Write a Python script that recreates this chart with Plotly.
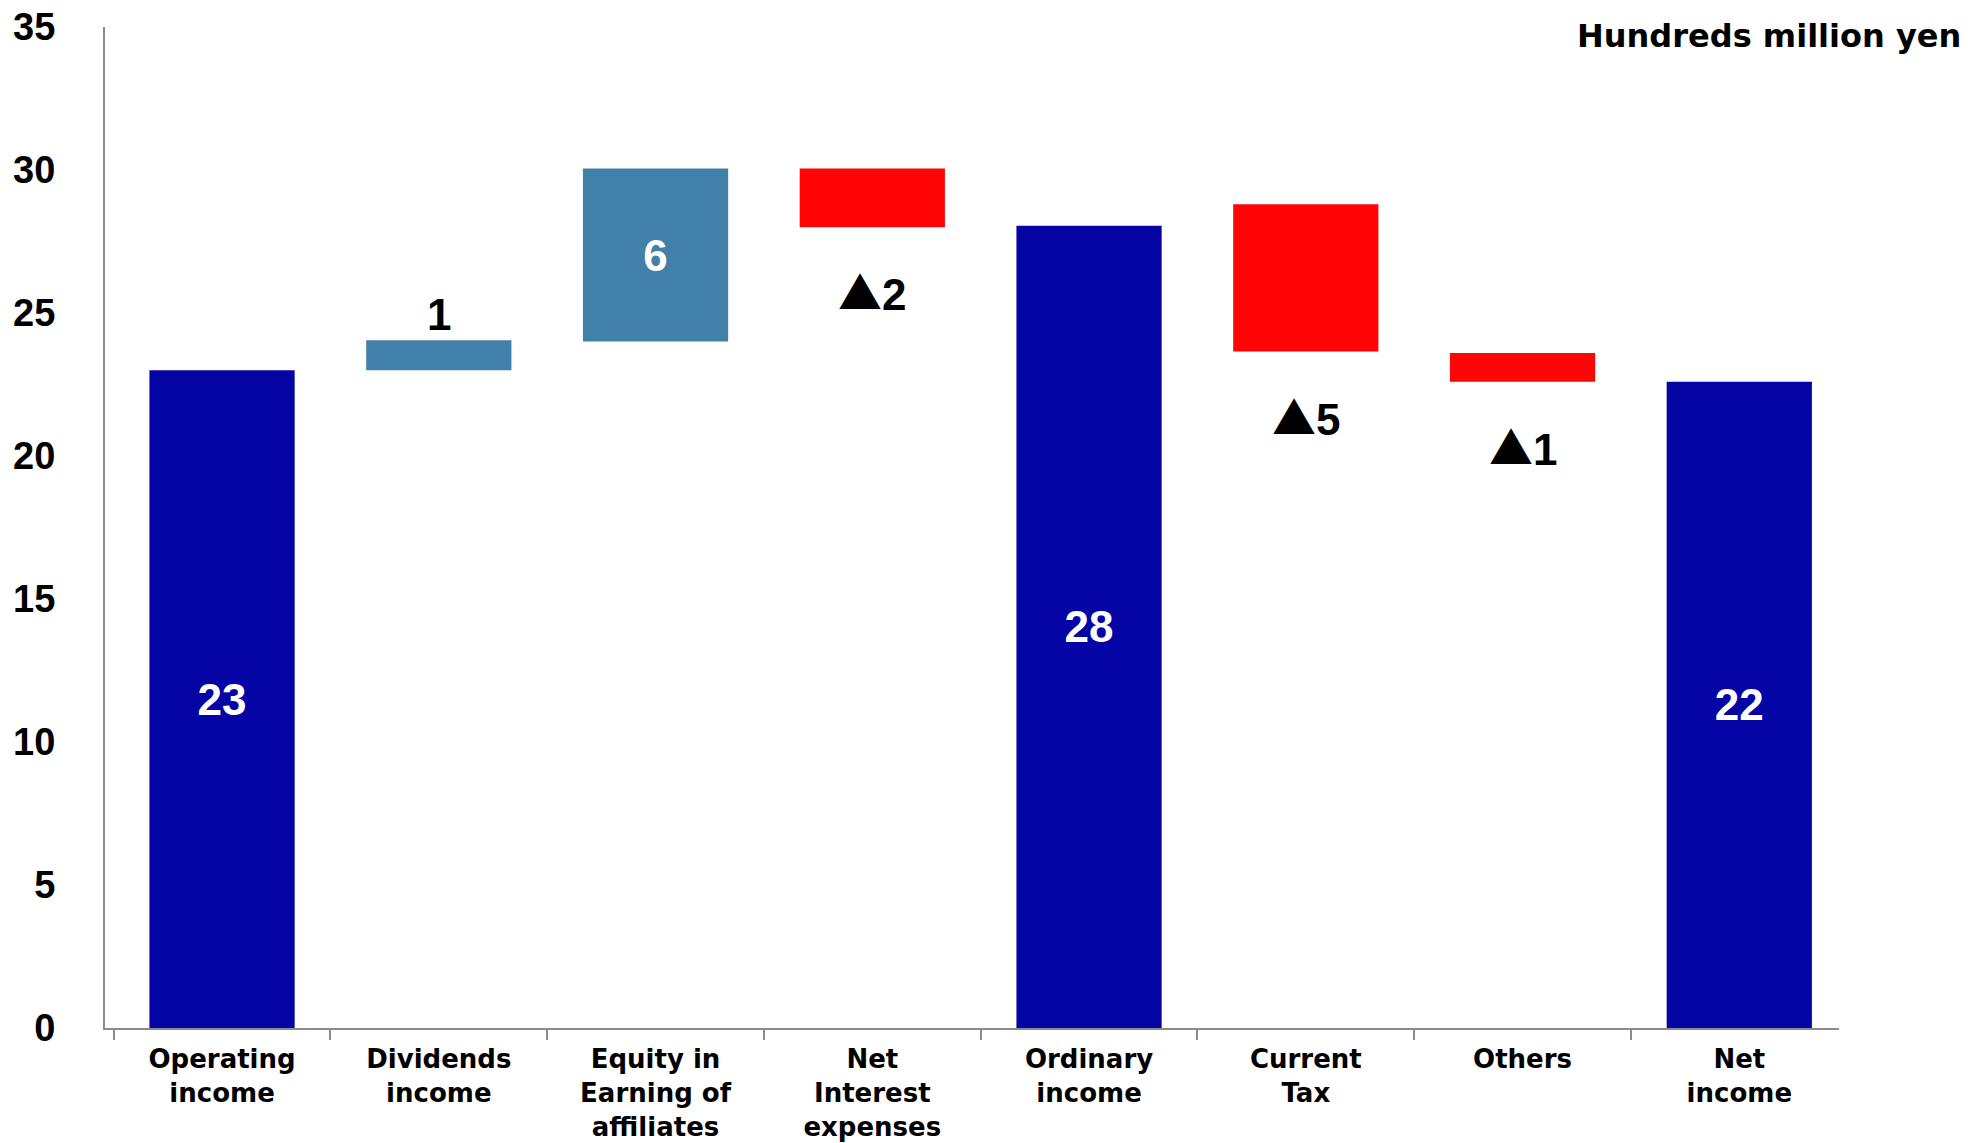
import plotly.graph_objects as go

categories = ["Operating<br>income", "Dividends<br>income", "Equity in<br>Earning of<br>affiliates",
              "Net<br>Interest<br>expenses", "Ordinary<br>income", "Current<br>Tax", "Others", "Net<br>income"]
bar_bottom = [0, 23.0, 24.0, 28.0, 0, 23.65, 22.6, 0]
bar_top = [23.0, 24.05, 30.05, 30.05, 28.05, 28.8, 23.6, 22.6]
value_labels = ["23", "1", "6", "▲2", "28", "▲5", "▲1", "22"]
label_place = ["inside", "above", "inside", "below", "inside", "below", "below", "inside"]
bar_kind = ["total", "up", "up", "down", "total", "down", "down", "total"]

y_ticks = [0, 5, 10, 15, 20, 25, 30, 35]
unit_text = "Hundreds million yen"

colors = {"total": "#0505A6", "up": "#4180A8", "down": "#FF0505"}
num_font = "Liberation Sans, Arial"


def fmt(v):
    # render the triangle with a CJK font so it is as large as in the source
    return v.replace("▲", "<span style='font-family:\"Noto Sans CJK JP\"'>▲</span>")


fig = go.Figure()
fig.add_trace(go.Bar(
    x=categories,
    y=[t - b for t, b in zip(bar_top, bar_bottom)],
    base=bar_bottom,
    width=0.67,
    marker=dict(color=[colors[k] for k in bar_kind], line=dict(width=0)),
    text=[v if p == "inside" else "" for v, p in zip(value_labels, label_place)],
    textposition="inside",
    insidetextanchor="middle",
    textangle=0,
    textfont=dict(family=num_font, size=44, color="white", weight="bold"),
    hoverinfo="skip",
    showlegend=False,
))

for cat, v, p, b, t in zip(categories, value_labels, label_place, bar_bottom, bar_top):
    if p == "above":
        fig.add_annotation(x=cat, y=t, text=fmt(v), showarrow=False, yanchor="bottom", yshift=-1,
                           font=dict(family=num_font, size=44, color="black", weight="bold"))
    elif p == "below":
        fig.add_annotation(x=cat, y=b, text=fmt(v), showarrow=False, yanchor="top", yshift=-30,
                           font=dict(family=num_font, size=44, color="black", weight="bold"))

fig.add_annotation(xref="paper", yref="paper", x=1.0715, y=0.9915, xanchor="right", yanchor="middle",
                   text=unit_text, showarrow=False,
                   font=dict(family="DejaVu Sans", size=32, color="black", weight="bold"))

fig.update_layout(
    width=1988, height=1143,
    margin=dict(l=105, r=149, t=27, b=115),
    plot_bgcolor="white", paper_bgcolor="white",
)
fig.update_xaxes(
    type="category", range=[-0.54, 7.46], automargin=False,
    showline=True, linecolor="#8C8C8C", linewidth=2,
    ticks="outside", tickson="boundaries", ticklen=10, tickcolor="#8C8C8C", tickwidth=2,
    ticklabelstandoff=7,
    tickfont=dict(family="DejaVu Sans", size=26, color="black", weight="bold"),
    showgrid=False, zeroline=False, fixedrange=True,
)
fig.update_yaxes(
    range=[0, 35], tickvals=y_ticks, automargin=False,
    showline=True, linecolor="#8C8C8C", linewidth=2,
    ticks="outside", ticklen=40, tickcolor="rgba(0,0,0,0)",
    tickfont=dict(family=num_font, size=38, color="black", weight="bold"),
    showgrid=False, zeroline=False, fixedrange=True,
)

fig.write_html("out.html", config={"displayModeBar": False},
               post_script="document.body.style.margin='0';")
